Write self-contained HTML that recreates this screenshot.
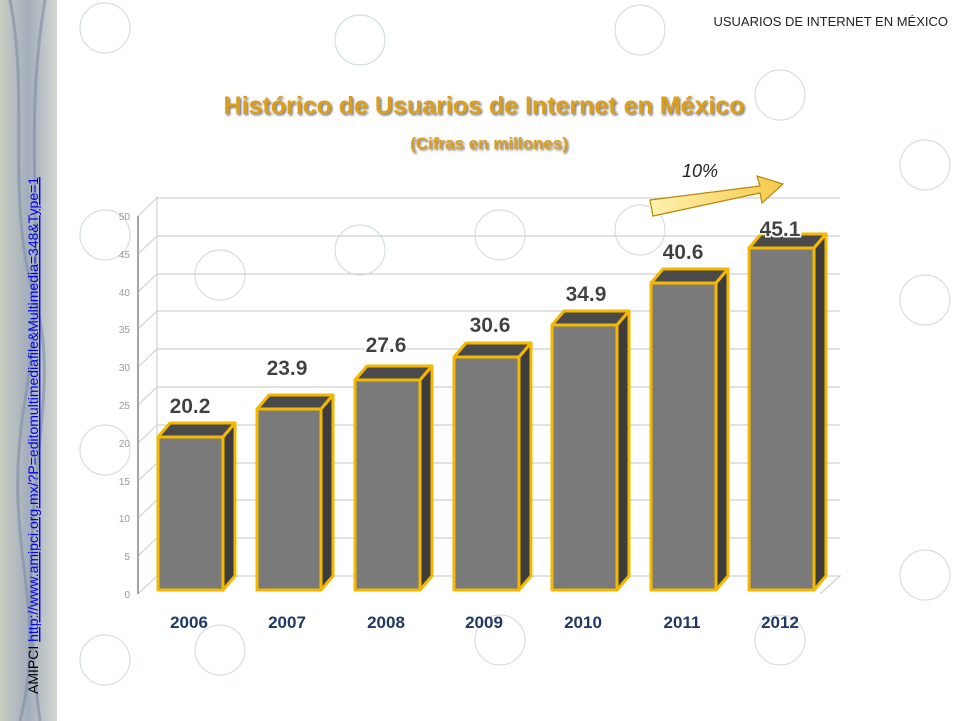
<!DOCTYPE html>
<html><head><meta charset="utf-8"><style>
body{margin:0;width:961px;height:721px;overflow:hidden;background:#fff;font-family:"Liberation Sans",sans-serif}
</style></head><body>
<svg width="961" height="721" xmlns="http://www.w3.org/2000/svg" style="position:absolute;left:0;top:0">
<defs>
<linearGradient id="strip" x1="0" y1="0" x2="1" y2="0"><stop offset="0" stop-color="#c8ccc0"/><stop offset="0.5" stop-color="#a4aebc"/><stop offset="1" stop-color="#d4d8d0"/></linearGradient>
<linearGradient id="arr" x1="0" y1="0" x2="1" y2="0"><stop offset="0" stop-color="#fff3b0"/><stop offset="1" stop-color="#f5c84a"/></linearGradient>
<filter id="glow"><feMorphology operator="dilate" radius="1.5" in="SourceAlpha" result="d"/><feFlood flood-color="#fff"/><feComposite in2="d" operator="in" result="w"/><feMerge><feMergeNode in="w"/><feMergeNode in="SourceGraphic"/></feMerge></filter>
<filter id="sh"><feDropShadow dx="1.5" dy="1.5" stdDeviation="1" flood-color="#555" flood-opacity="0.8"/></filter>
</defs>
<rect x="0" y="0" width="57" height="721" fill="url(#strip)"/>
<g stroke="#7f8ea8" stroke-width="3" fill="none" opacity="0.6">
<path d="M10 0 C30 100 5 200 35 300 S10 500 40 721"/><path d="M45 0 C20 150 50 250 25 400 S50 600 20 721"/>
</g>
<g stroke="#c9d6e2" fill="none" stroke-width="1.2" opacity="0.8">
<circle cx="105" cy="28" r="25"/><circle cx="105" cy="235" r="25"/><circle cx="105" cy="450" r="25"/><circle cx="105" cy="660" r="25"/>
<circle cx="220" cy="275" r="25"/><circle cx="360" cy="250" r="25"/><circle cx="500" cy="235" r="25"/><circle cx="640" cy="230" r="25"/>
<circle cx="780" cy="95" r="25"/><circle cx="925" cy="165" r="25"/><circle cx="925" cy="300" r="25"/><circle cx="925" cy="575" r="25"/>
<circle cx="220" cy="650" r="25"/><circle cx="500" cy="640" r="25"/><circle cx="780" cy="640" r="25"/><circle cx="640" cy="30" r="25"/><circle cx="360" cy="40" r="25"/>
</g>
<g stroke="#d0d0d0" stroke-width="1.2" fill="none">
<path d="M138 594 L157 576 L840 576 L820 594"/>
<path d="M157 576 V196"/>
<path d="M138 556 L157 538 H840"/><path d="M138 518 L157 500 H840"/><path d="M138 481 L157 463 H840"/><path d="M138 443 L157 425 H840"/><path d="M138 405 L157 387 H840"/><path d="M138 367 L157 349 H840"/><path d="M138 329 L157 311 H840"/><path d="M138 292 L157 274 H840"/><path d="M138 254 L157 236 H840"/><path d="M138 216 L157 198 H840"/>
</g>
<line x1="138" y1="216" x2="138" y2="594" stroke="#888" stroke-width="1.5"/>
<g font-size="10" fill="#999" text-anchor="end">
<text x="130" y="598">0</text><text x="130" y="560">5</text><text x="130" y="522">10</text><text x="130" y="485">15</text><text x="130" y="447">20</text><text x="130" y="409">25</text><text x="130" y="371">30</text><text x="130" y="333">35</text><text x="130" y="296">40</text><text x="130" y="258">45</text><text x="130" y="220">50</text>
</g>
<g stroke="#f5b800" stroke-width="3" stroke-linejoin="round">
<g><polygon points="158,437 223,437 235,423 170,423" fill="#4a4a4a"/><polygon points="223,437 235,423 235,576 223,590" fill="#3d3d3d"/><rect x="158" y="437" width="65" height="153" fill="#7a7a7a"/></g>
<g><polygon points="257,409 321,409 333,395 269,395" fill="#4a4a4a"/><polygon points="321,409 333,395 333,576 321,590" fill="#3d3d3d"/><rect x="257" y="409" width="64" height="181" fill="#7a7a7a"/></g>
<g><polygon points="355,380 420,380 432,366 367,366" fill="#4a4a4a"/><polygon points="420,380 432,366 432,576 420,590" fill="#3d3d3d"/><rect x="355" y="380" width="65" height="210" fill="#7a7a7a"/></g>
<g><polygon points="454,357 519,357 531,343 466,343" fill="#4a4a4a"/><polygon points="519,357 531,343 531,576 519,590" fill="#3d3d3d"/><rect x="454" y="357" width="65" height="233" fill="#7a7a7a"/></g>
<g><polygon points="552,325 617,325 629,311 564,311" fill="#4a4a4a"/><polygon points="617,325 629,311 629,576 617,590" fill="#3d3d3d"/><rect x="552" y="325" width="65" height="265" fill="#7a7a7a"/></g>
<g><polygon points="651,283 716,283 728,269 663,269" fill="#4a4a4a"/><polygon points="716,283 728,269 728,576 716,590" fill="#3d3d3d"/><rect x="651" y="283" width="65" height="307" fill="#7a7a7a"/></g>
<g><polygon points="749,248 814,248 826,234 761,234" fill="#4a4a4a"/><polygon points="814,248 826,234 826,576 814,590" fill="#3d3d3d"/><rect x="749" y="248" width="65" height="342" fill="#7a7a7a"/></g>
</g>
<g font-size="21" font-weight="bold" fill="#404040" text-anchor="middle" filter="url(#glow)">
<text x="190" y="413">20.2</text><text x="287" y="375">23.9</text><text x="386" y="352">27.6</text><text x="490" y="332">30.6</text><text x="586" y="301">34.9</text><text x="683" y="259">40.6</text><text x="780" y="236">45.1</text>
</g>
<g font-size="17" font-weight="bold" fill="#1f3864" text-anchor="middle">
<text x="189" y="628">2006</text><text x="287" y="628">2007</text><text x="386" y="628">2008</text><text x="484" y="628">2009</text><text x="583" y="628">2010</text><text x="682" y="628">2011</text><text x="780" y="628">2012</text>
</g>
<g font-weight="bold" text-anchor="middle" fill="#dc9f1a" filter="url(#sh)">
<text x="484" y="114" font-size="25">Histórico de Usuarios de Internet en México</text>
<text x="489" y="149" font-size="17">(Cifras en millones)</text>
</g>
<text x="948" y="26" font-size="13" text-anchor="end" fill="#222">USUARIOS DE INTERNET EN MÉXICO</text>
<polygon points="650,200 760,186 757,176 783,184 762,203 760,193 653,216" fill="url(#arr)" stroke="#b8860b" stroke-width="1.2"/>
<text x="700" y="177" font-size="18" font-style="italic" fill="#222" text-anchor="middle">10%</text>
<text transform="translate(38,694) rotate(-90)" font-size="14" fill="#000">AMIPCI <tspan fill="#0000ee" text-decoration="underline">http://www.amipci.org.mx/?P=editomultimediafile&amp;Multimedia=348&amp;Type=1</tspan></text>
</svg>
</body></html>
